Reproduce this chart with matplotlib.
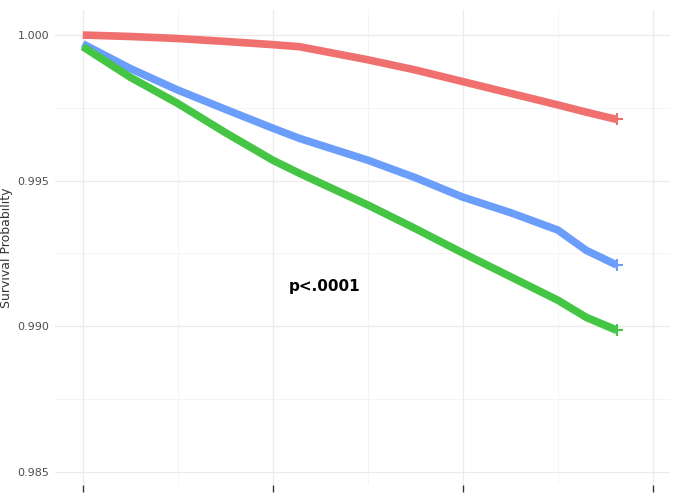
import matplotlib
matplotlib.use("Agg")
import matplotlib.pyplot as plt
import numpy as np

t = [0, 0.25, 0.5, 0.75, 1.0, 1.14, 1.5, 1.75, 2.0, 2.25, 2.5, 2.65, 2.81]
red = [1.0000, 0.99995, 0.99988, 0.99978, 0.99967, 0.99960, 0.99915, 0.99880, 0.99840, 0.99800, 0.99760, 0.99735, 0.99710]
blue = [0.99970, 0.99885, 0.99811, 0.99745, 0.99680, 0.99645, 0.99570, 0.99510, 0.99443, 0.99390, 0.99330, 0.99260, 0.99210]
green = [0.99960, 0.99855, 0.99765, 0.99665, 0.99570, 0.99525, 0.99416, 0.99335, 0.99251, 0.99170, 0.99089, 0.99030, 0.98986]
blue_w = [0.00002, 0.00003, 0.00004, 0.00005, 0.00005, 0.00005, 0.00006, 0.00007, 0.00008, 0.00009, 0.00010, 0.00012, 0.00014]
green_w = [0.00002, 0.00003, 0.00004, 0.00005, 0.00005, 0.00006, 0.00007, 0.00008, 0.00009, 0.00010, 0.00012, 0.00014, 0.00016]

fig = plt.figure(figsize=(6.85, 5), dpi=100)
ax = fig.add_axes([0.08, 0.03, 0.898, 0.95])
ax.set_xlim(-0.147, 3.09)
ax.set_ylim(0.98454, 1.00086)

for y in [0.985, 0.990, 0.995, 1.000]:
    ax.axhline(y, color="#ebebeb", lw=0.9, zorder=0)
for y in [0.9875, 0.9925, 0.9975]:
    ax.axhline(y, color="#f2f2f2", lw=0.6, zorder=0)
for x in [0, 1, 2, 3]:
    ax.axvline(x, color="#ebebeb", lw=0.9, zorder=0)
for x in [0.5, 1.5, 2.5]:
    ax.axvline(x, color="#f2f2f2", lw=0.6, zorder=0)

cols = ["#F07070", "#6A9EFA", "#44C544"]
ta = np.array(t)
ax.fill_between(ta, np.array(blue) - blue_w, np.array(blue) + blue_w, color=cols[1], alpha=0.3, lw=0)
ax.fill_between(ta, np.array(green) - green_w, np.array(green) + green_w, color=cols[2], alpha=0.3, lw=0)
for s, c in zip([red, blue, green], cols):
    ax.plot(t, s, color=c, lw=5.5, solid_capstyle="butt", solid_joinstyle="round")
    ax.plot(t[-1], s[-1], marker="+", color=c, ms=9, mew=1.5)

ax.text(1.27, 0.99137, "p<.0001", fontsize=11, fontweight="bold", ha="center", va="center")

ax.set_xticks([0, 1, 2, 3])
ax.set_xticklabels([])
ax.set_yticks([0.985, 0.990, 0.995, 1.000])
ax.set_yticklabels(["0.985", "0.990", "0.995", "1.000"], fontsize=8, color="#4d4d4d")
ax.tick_params(axis="x", length=5, color="#333333", width=1)
ax.tick_params(axis="y", length=0, pad=4)
for sp in ax.spines.values():
    sp.set_visible(False)
ax.set_ylabel("Survival Probability", fontsize=9, color="#333333", labelpad=3)
fig.savefig("out.png", dpi=100)
